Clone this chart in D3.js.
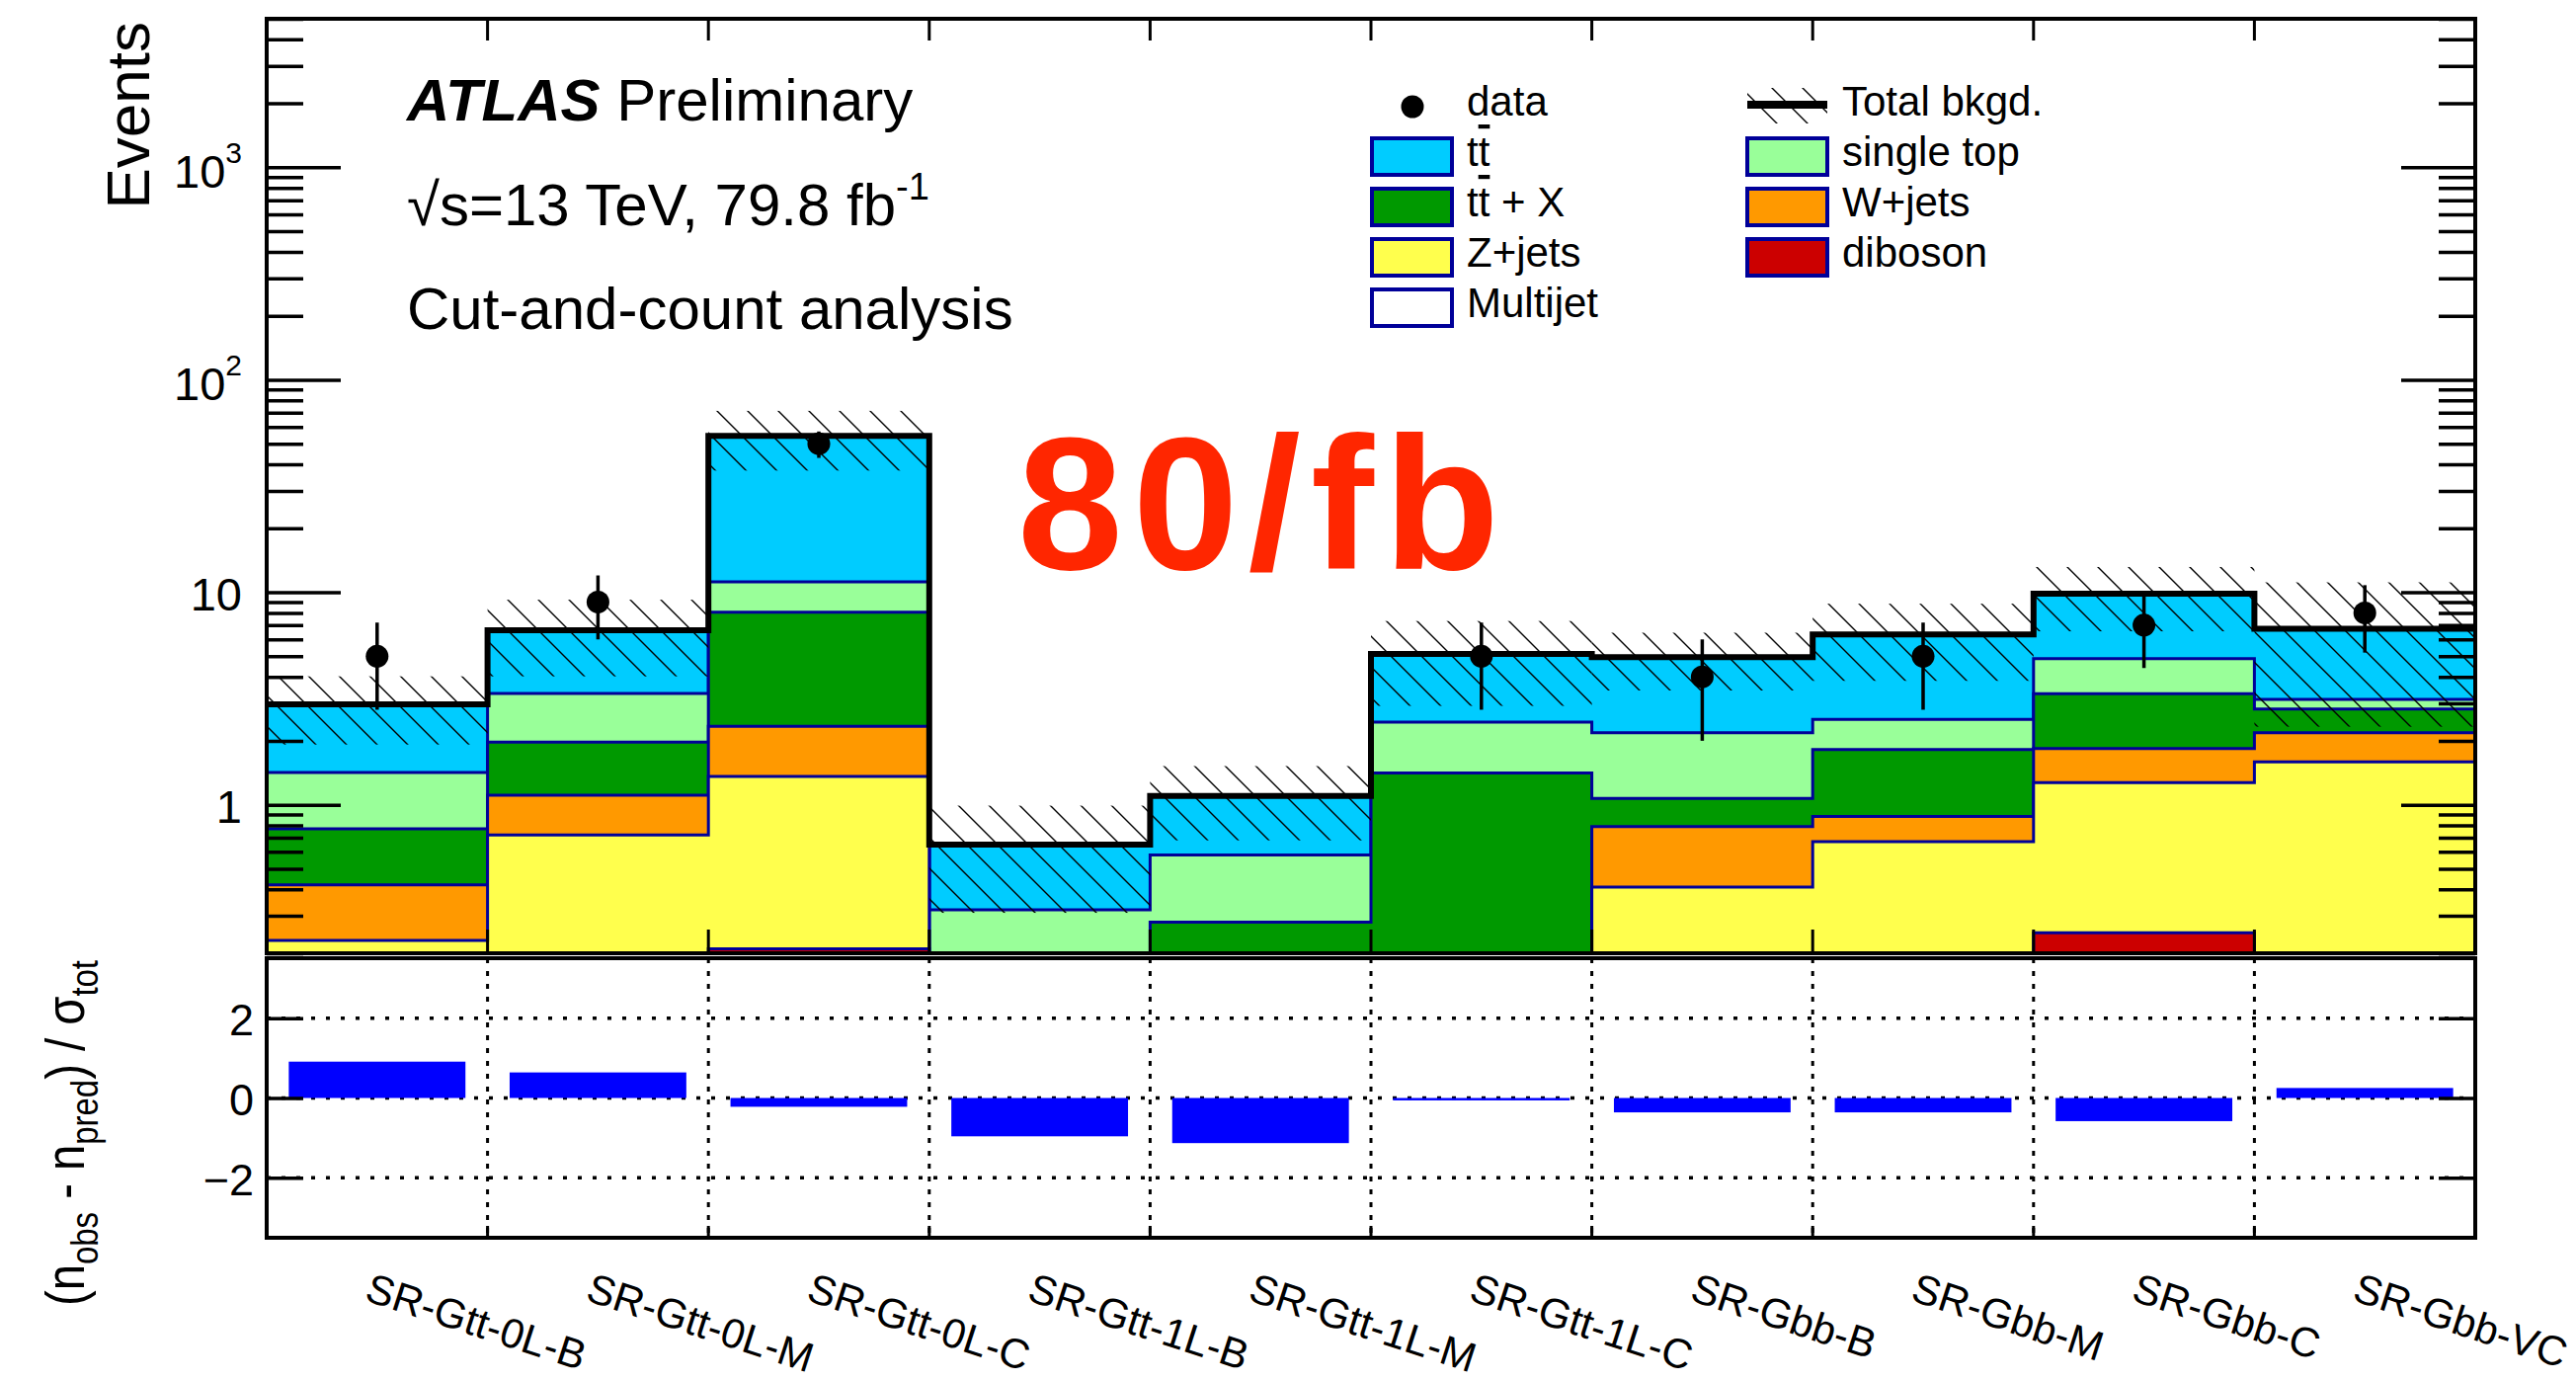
<!DOCTYPE html>
<html>
<head>
<meta charset="utf-8">
<script src="https://cdn.jsdelivr.net/npm/d3@7"></script>
<style>
  body { margin: 0; background: #fff; }
  svg { display: block; font-family: "Liberation Sans", Arial, Helvetica, sans-serif; }
</style>
</head>
<body>
<svg id="chart" width="2608" height="1398"></svg>
<script>
// signal regions
const regions = ["SR-Gtt-0L-B", "SR-Gtt-0L-M", "SR-Gtt-0L-C", "SR-Gtt-1L-B", "SR-Gtt-1L-M",
                 "SR-Gtt-1L-C", "SR-Gbb-B", "SR-Gbb-M", "SR-Gbb-C", "SR-Gbb-VC"];

// background yields per region (stack order bottom -> top)
const diboson   = [0,    0,    0.21, 0,    0,    0,    0,    0,    0.25, 0];
const zjets     = [0.23, 0.72, 1.15, 0,    0,    0,    0.41, 0.67, 1.02, 1.59];
const wjets     = [0.19, 0.39, 0.98, 0,    0,    0,    0.38, 0.21, 0.57, 0.59];
const ttx       = [0.35, 0.86, 5.71, 0.03, 0.28, 1.41, 0.28, 0.94, 1.49, 0.64];
const singletop = [0.65, 1.37, 3.15, 0.29, 0.30, 1.04, 1.11, 0.70, 1.54, 0.31];
const ttbar     = [1.55, 3.28, 43.2, 0.33, 0.52, 2.67, 2.77, 3.81, 4.98, 3.60];
const multijet  = [0,    0,    0,    0,    0,    0,    0,    0,    0,    0];
const bkgErr    = [1.05, 2.6,  17,   0.34, 0.42, 2.2,  1.5,  2.5,  3.3,  4.4];

// observed
const dataObs = [5, 9, 50, 0, 0, 5, 4, 5, 7, 8];
const dataErr = [2.2, 3.0, 7.1, 0, 0, 2.2, 2.0, 2.2, 2.6, 2.8];

// (n_obs - n_pred) / sigma_tot
const pulls = [0.91, 0.64, -0.22, -0.96, -1.13, -0.06, -0.36, -0.36, -0.58, 0.25];

const yMajor = [1, 10, 100, 1000];
const yMajorLabels = [["1", ""], ["10", ""], ["10", "2"], ["10", "3"]];
const pullTicks = [-2, 0, 2];

const colors = {
  diboson: "#cc0000",
  zjets: "#ffff4d",
  wjets: "#ff9900",
  ttx: "#009900",
  singletop: "#99ff99",
  ttbar: "#00ccff",
  multijet: "#ffffff"
};
const lineBlue = "#000099";

const L = 270, R = 2506, T = 19, B = 965, T2 = 970, B2 = 1253;

const svg = d3.select("#chart");

const table = regions.map((r, i) => ({
  region: r, diboson: diboson[i], zjets: zjets[i], wjets: wjets[i], ttx: ttx[i],
  singletop: singletop[i], ttbar: ttbar[i], multijet: multijet[i]
}));
const keys = ["diboson", "zjets", "wjets", "ttx", "singletop", "ttbar", "multijet"];
const stack = d3.stack().keys(keys)(table);
const total = stack[stack.length - 1].map(d => d[1]);

const x = d3.scaleBand().domain(regions).range([L, R]);
const bw = x.bandwidth();
const edges = regions.map(r => x(r)).concat([R]);
const innerEdges = edges.slice(1, -1);

const y = d3.scaleLog().domain([0.2, 5000]).range([B, T]).clamp(true);
const yv = v => y(Math.max(v, 0.01));
const yr = d3.scaleLinear().domain([-3.5, 3.5]).range([B2, T2]);

// hatch pattern
const defs = svg.append("defs");
const pat = defs.append("pattern").attr("id", "hatch").attr("patternUnits", "userSpaceOnUse")
  .attr("width", 31).attr("height", 31);
pat.append("path").attr("d", "M0,0L31,31M-8,23L8,39M23,-8L39,8")
  .attr("stroke", "#000").attr("stroke-width", 1.4);
defs.append("clipPath").attr("id", "clipMain").append("rect")
  .attr("x", L).attr("y", T).attr("width", R - L).attr("height", B - T);

const stepPts = vals => edges.map((e, i) => [e, vals[Math.min(i, vals.length - 1)]]);
const stepLine = d3.line().x(d => d[0]).y(d => yv(d[1])).curve(d3.curveStepAfter);
const stepArea = d3.area().x(d => d[0]).y0(B + 10).y1(d => yv(d[1])).curve(d3.curveStepAfter);

const plot = svg.append("g").attr("clip-path", "url(#clipMain)");

// stacked backgrounds, drawn top-down like THStack
stack.slice().reverse().forEach(layer => {
  const tops = layer.map(d => d[1]);
  plot.append("path").attr("d", stepArea(stepPts(tops))).attr("fill", colors[layer.key]);
  plot.append("path").attr("d", stepLine(stepPts(tops)))
    .attr("fill", "none").attr("stroke", lineBlue).attr("stroke-width", 3);
});

// uncertainty band
plot.selectAll("rect.band").data(regions).enter().append("rect")
  .attr("class", "band")
  .attr("x", r => x(r)).attr("width", bw)
  .attr("y", (r, i) => yv(total[i] + bkgErr[i]))
  .attr("height", (r, i) => yv(Math.max(total[i] - bkgErr[i], 0.01)) - yv(total[i] + bkgErr[i]))
  .attr("fill", "url(#hatch)");

// total background
plot.append("path").attr("d", stepLine(stepPts(total)))
  .attr("fill", "none").attr("stroke", "#000").attr("stroke-width", 6);

// data
const pts = regions.map((r, i) => ({ r, n: dataObs[i], e: dataErr[i] })).filter(d => d.n > 0);
plot.selectAll("line.err").data(pts).enter().append("line")
  .attr("x1", d => x(d.r) + bw / 2).attr("x2", d => x(d.r) + bw / 2)
  .attr("y1", d => yv(d.n + d.e)).attr("y2", d => yv(d.n - d.e))
  .attr("stroke", "#000").attr("stroke-width", 3.5);
plot.selectAll("circle.dat").data(pts).enter().append("circle")
  .attr("cx", d => x(d.r) + bw / 2).attr("cy", d => yv(d.n)).attr("r", 11.5).attr("fill", "#000");

// main axes
const styleAxis = g => { g.select(".domain").remove(); g.selectAll("line").attr("stroke-width", 3.5); };
const yMinor = y.ticks().filter(v => !yMajor.includes(v));
svg.append("g").attr("transform", `translate(${L},0)`)
  .call(d3.axisLeft(y).tickValues(yMajor).tickSize(-75).tickFormat("")).call(styleAxis);
svg.append("g").attr("transform", `translate(${L},0)`)
  .call(d3.axisLeft(y).tickValues(yMinor).tickSize(-37).tickFormat("")).call(styleAxis);
svg.append("g").attr("transform", `translate(${R},0)`)
  .call(d3.axisRight(y).tickValues(yMajor).tickSize(-75).tickFormat("")).call(styleAxis);
svg.append("g").attr("transform", `translate(${R},0)`)
  .call(d3.axisRight(y).tickValues(yMinor).tickSize(-37).tickFormat("")).call(styleAxis);

yMajor.forEach((v, i) => {
  const [base, exp] = yMajorLabels[i];
  const t = svg.append("text").attr("x", 245).attr("y", y(v) + (exp ? 21 : 18))
    .attr("text-anchor", "end").attr("font-size", 47);
  t.append("tspan").text(base);
  if (exp) t.append("tspan").attr("dy", -25).attr("font-size", 30).text(exp);
});

svg.append("g").selectAll("line").data(innerEdges).enter().append("line")
  .attr("x1", d => d).attr("x2", d => d).attr("y1", B).attr("y2", B - 24)
  .attr("stroke", "#000").attr("stroke-width", 3);
svg.append("g").selectAll("line").data(innerEdges).enter().append("line")
  .attr("x1", d => d).attr("x2", d => d).attr("y1", T).attr("y2", T + 22)
  .attr("stroke", "#000").attr("stroke-width", 3);

svg.append("rect").attr("x", L).attr("y", T).attr("width", R - L).attr("height", B - T)
  .attr("fill", "none").attr("stroke", "#000").attr("stroke-width", 4);

svg.append("text").attr("transform", "translate(151,22) rotate(-90)")
  .attr("text-anchor", "end").attr("font-size", 62).text("Events");

// labels
const lab = svg.append("g").attr("font-size", 60);
const atl = lab.append("text").attr("x", 412).attr("y", 122);
atl.append("tspan").attr("font-weight", "bold").attr("font-style", "italic").text("ATLAS");
atl.append("tspan").text(" Preliminary");
const rs = lab.append("text").attr("x", 412).attr("y", 228);
rs.append("tspan").text("√s=13 TeV, 79.8 fb");
rs.append("tspan").attr("dy", -26).attr("font-size", 38).text("-1");
lab.append("text").attr("x", 412).attr("y", 333).text("Cut-and-count analysis");

svg.append("text").attr("x", 1030).attr("y", 576).attr("font-size", 192)
  .attr("font-weight", "bold").attr("letter-spacing", 10).attr("fill", "#ff2600").text("80/fb");

// legend
const leg = svg.append("g").attr("font-size", 42);
const legLeft = [
  { key: "data", label: ["data"] },
  { key: "ttbar", label: ["t", "t"] },
  { key: "ttx", label: ["t", "t", " + X"] },
  { key: "zjets", label: ["Z+jets"] },
  { key: "multijet", label: ["Multijet"] }
];
const legRight = [
  { key: "total", label: ["Total bkgd."] },
  { key: "singletop", label: ["single top"] },
  { key: "wjets", label: ["W+jets"] },
  { key: "diboson", label: ["diboson"] }
];
const rowY = [106, 157, 208, 259, 310];
function legendColumn(items, bx, tx) {
  items.forEach((it, i) => {
    const cy = rowY[i];
    if (it.key === "data") {
      leg.append("circle").attr("cx", bx + 41).attr("cy", cy + 2).attr("r", 11.5).attr("fill", "#000");
    } else if (it.key === "total") {
      leg.append("rect").attr("x", bx).attr("y", cy - 17).attr("width", 81).attr("height", 36)
        .attr("fill", "url(#hatch)");
      leg.append("line").attr("x1", bx).attr("x2", bx + 81).attr("y1", cy).attr("y2", cy)
        .attr("stroke", "#000").attr("stroke-width", 8);
    } else {
      leg.append("rect").attr("x", bx).attr("y", cy - 17).attr("width", 81).attr("height", 37)
        .attr("fill", colors[it.key]).attr("stroke", lineBlue).attr("stroke-width", 4);
    }
    const t = leg.append("text").attr("x", tx).attr("y", cy + 11);
    it.label.forEach((s, j) => {
      const sp = t.append("tspan").text(s);
      if (it.label.length > 1 && j === 1) sp.style("text-decoration", "overline");
    });
  });
}
legendColumn(legLeft, 1389, 1485);
legendColumn(legRight, 1769, 1865);

// ratio panel
const low = svg.append("g");
low.selectAll("line.h").data(pullTicks).enter().append("line")
  .attr("x1", L).attr("x2", R).attr("y1", d => yr(d)).attr("y2", d => yr(d))
  .attr("stroke", "#000").attr("stroke-width", 3.5).attr("stroke-dasharray", "4 11");
low.selectAll("line.v").data(innerEdges).enter().append("line")
  .attr("x1", d => d).attr("x2", d => d).attr("y1", T2).attr("y2", B2)
  .attr("stroke", "#000").attr("stroke-width", 3).attr("stroke-dasharray", "5 8");
low.selectAll("rect.pull").data(regions).enter().append("rect")
  .attr("x", r => x(r) + 0.1 * bw).attr("width", 0.8 * bw)
  .attr("y", (r, i) => yr(Math.max(pulls[i], 0)))
  .attr("height", (r, i) => Math.abs(yr(pulls[i]) - yr(0)))
  .attr("fill", "#0000ff");

svg.append("g").attr("transform", `translate(${L},0)`)
  .call(d3.axisLeft(yr).tickValues(pullTicks).tickSize(-37).tickPadding(13).tickFormat(d3.format("d")))
  .call(styleAxis)
  .call(g => g.selectAll("text").attr("font-size", 45).attr("font-family", null).attr("dy", "0.37em"));
svg.append("g").attr("transform", `translate(${R},0)`)
  .call(d3.axisRight(yr).tickValues(pullTicks).tickSize(-37).tickFormat(""))
  .call(styleAxis);
svg.append("g").selectAll("line").data(innerEdges).enter().append("line")
  .attr("x1", d => d).attr("x2", d => d).attr("y1", B2).attr("y2", B2 - 12)
  .attr("stroke", "#000").attr("stroke-width", 3);

svg.append("rect").attr("x", L).attr("y", T2).attr("width", R - L).attr("height", B2 - T2)
  .attr("fill", "none").attr("stroke", "#000").attr("stroke-width", 4);

const pt = svg.append("text").attr("transform", "translate(85,972) rotate(-90)")
  .attr("text-anchor", "end").attr("font-size", 56)
  .attr("textLength", 350).attr("lengthAdjust", "spacingAndGlyphs");
pt.append("tspan").text("(n");
pt.append("tspan").attr("dy", 14).attr("font-size", 39).text("obs");
pt.append("tspan").attr("dy", -14).text(" - n");
pt.append("tspan").attr("dy", 14).attr("font-size", 39).text("pred");
pt.append("tspan").attr("dy", -14).text(") / σ");
pt.append("tspan").attr("dy", 14).attr("font-size", 39).text("tot");

// region labels
svg.append("g").selectAll("text").data(regions).enter().append("text")
  .attr("transform", r => `translate(${x(r) + bw / 2 - 14},1316) rotate(18)`)
  .attr("font-size", 42).text(r => r);
</script>
</body>
</html>
